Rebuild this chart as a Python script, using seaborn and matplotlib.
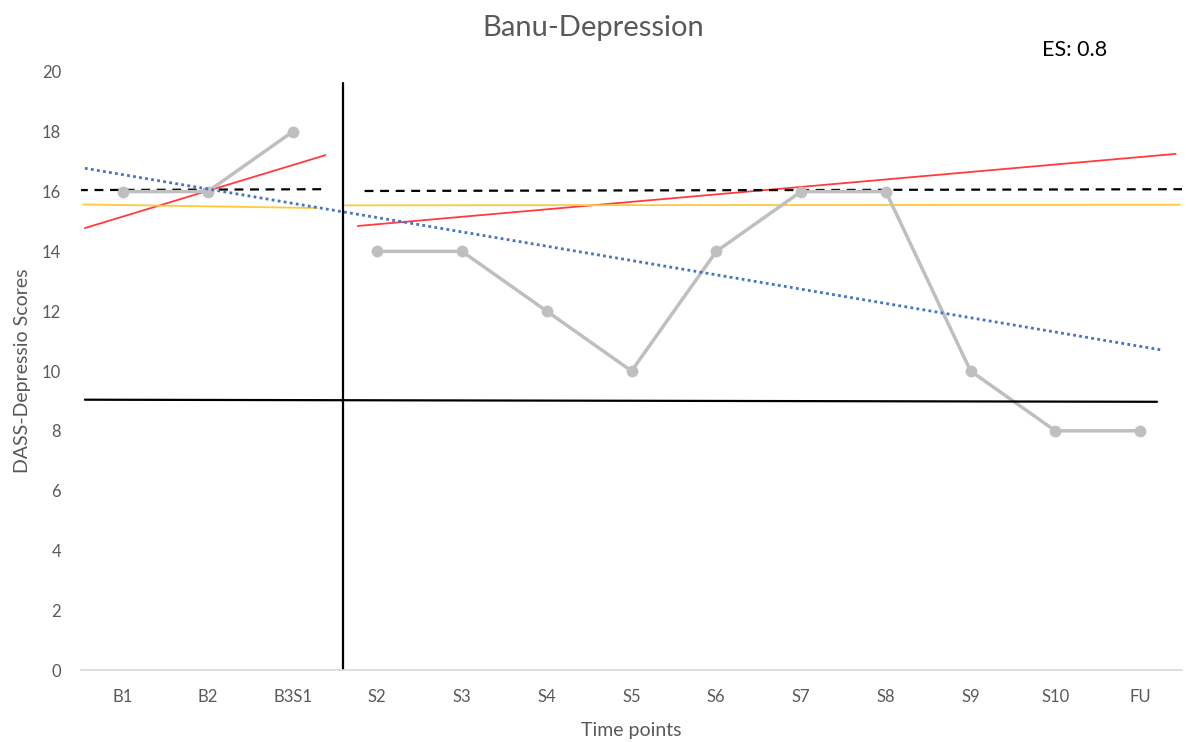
import pandas as pd
import matplotlib
matplotlib.use("Agg")
import matplotlib.pyplot as plt
import seaborn as sns

# Datos
categorias = ["B1", "B2", "B3S1", "S2", "S3", "S4", "S5", "S6", "S7", "S8", "S9", "S10", "FU"]
puntajes = [16, 16, 18, 14, 14, 12, 10, 14, 16, 16, 10, 8, 8]
fase = ["A", "A", "A", "B", "B", "B", "B", "B", "B", "B", "B", "B", "B"]

# Lineas de tendencia (inicio y fin en posicion de categoria, valor)
roja_base_x = [-0.45, 2.39]
roja_base_y = [14.78, 17.22]
roja_trat_x = [2.77, 12.42]
roja_trat_y = [14.85, 17.26]
azul_x = [-0.45, 12.26]
azul_y = [16.78, 10.70]
media_base_x = [-0.52, 2.39]
media_base_y = [16.05, 16.08]
media_trat_x = [2.85, 12.55]
media_trat_y = [16.02, 16.08]
amarilla_base_x = [-0.47, 2.29]
amarilla_base_y = [15.57, 15.45]
amarilla_trat_x = [2.62, 12.47]
amarilla_trat_y = [15.54, 15.56]
corte_x = [-0.45, 12.20]
corte_y = [9.04, 8.97]
fase_x = 2.6
fase_y = [0, 19.62]

df = pd.DataFrame({"pos": range(len(categorias)), "score": puntajes, "fase": fase})

sns.set_style("white")
plt.rcParams["font.family"] = ["Lato", "DejaVu Sans"]

fig = plt.figure(figsize=(11.86, 7.42), dpi=100)
ax = fig.add_axes([0.068, 0.097, 0.929, 0.806])

gris = "#595959"

ax.plot(roja_base_x, roja_base_y, color="#FF3B3B", lw=1.3)
ax.plot(roja_trat_x, roja_trat_y, color="#FF3B3B", lw=1.3)
ax.plot(amarilla_base_x, amarilla_base_y, color="#FFC83D", lw=1.3)
ax.plot(amarilla_trat_x, amarilla_trat_y, color="#FFC83D", lw=1.3)
ax.plot(media_base_x, media_base_y, color="black", lw=1.6, ls=(0, (4, 3)))
ax.plot(media_trat_x, media_trat_y, color="black", lw=1.6, ls=(0, (4, 3)))

sns.lineplot(data=df, x="pos", y="score", hue="fase", palette=["#BFBFBF", "#BFBFBF"],
             marker="o", markersize=8.5, markeredgewidth=0, lw=2.5, legend=False, ax=ax)

ax.plot(azul_x, azul_y, color="#4472C4", lw=2, ls=(0, (1, 1.2)))
ax.plot(corte_x, corte_y, color="black", lw=1.6)
ax.plot([fase_x, fase_x], fase_y, color="black", lw=1.6)

ax.set_xlim(-0.5, 12.5)
ax.set_ylim(0, 20)
ax.set_xticks(range(len(categorias)))
ax.set_xticklabels(categorias)
ax.set_yticks(range(0, 21, 2))
ax.tick_params(axis="both", colors=gris, labelsize=12, length=0)
ax.tick_params(axis="x", pad=14)
ax.tick_params(axis="y", pad=14)

for lado in ["top", "right", "left"]:
    ax.spines[lado].set_visible(False)
ax.spines["bottom"].set_color("#D9D9D9")
ax.spines["bottom"].set_linewidth(1.2)

ax.set_xlabel("Time points", color=gris, fontsize=14, labelpad=12)
ax.set_ylabel("DASS-Depressio Scores", color=gris, fontsize=14, labelpad=8)
fig.text(0.5, 0.962, "Banu-Depression", ha="center", va="center", color=gris, fontsize=21)
fig.text(0.906, 0.933, "ES: 0.8", ha="center", va="center", color="black", fontsize=15.5)

plt.savefig("out.png", dpi=100)
